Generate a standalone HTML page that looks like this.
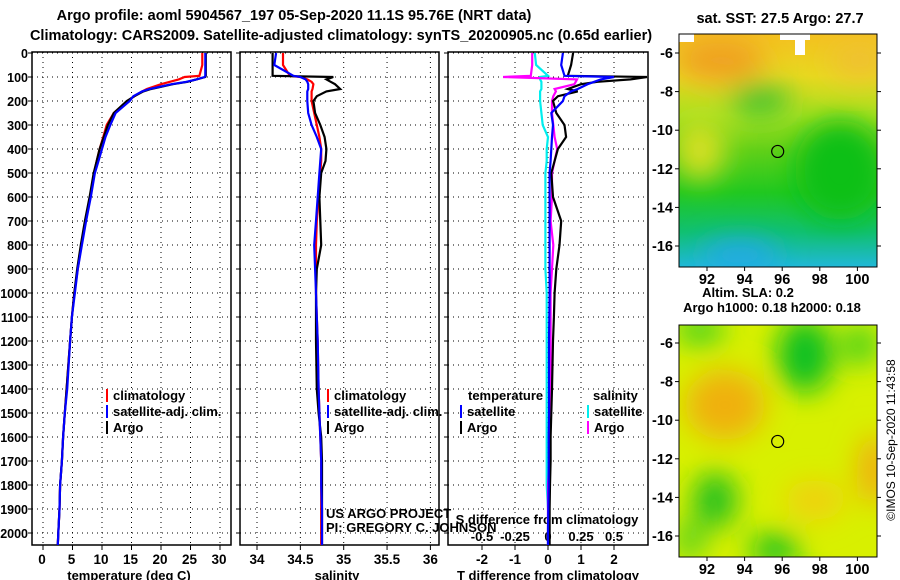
<!DOCTYPE html>
<html><head><meta charset="utf-8"><style>
body{margin:0;background:#fff}
svg{display:block;font-family:"Liberation Sans",sans-serif}
.t{font-weight:bold;font-size:14.5px}
.a{font-weight:bold;font-size:13px}
.m{font-weight:bold;font-size:13.5px}
.d{font-weight:bold;font-size:12.5px}
.g{stroke:#000;stroke-width:1;stroke-dasharray:1 4}
</style></head><body>
<svg id="c" width="900" height="580" viewBox="0 0 900 580">
<defs>
<linearGradient id="sstg" x1="0" y1="0" x2="0" y2="1">
<stop offset="0" stop-color="#f4c020"/><stop offset="0.18" stop-color="#e8d820"/>
<stop offset="0.35" stop-color="#a8e020"/><stop offset="0.5" stop-color="#60d018"/>
<stop offset="0.68" stop-color="#20c820"/><stop offset="0.85" stop-color="#10c070"/>
<stop offset="1" stop-color="#20b8d8"/></linearGradient>
<filter id="bl"><feGaussianBlur stdDeviation="14"/></filter>
<clipPath id="cm1"><rect x="679" y="34" width="198" height="233"/></clipPath>
<clipPath id="cm2"><rect x="679" y="325" width="198" height="232"/></clipPath>
<clipPath id="cp3"><rect x="448" y="52" width="200" height="493"/></clipPath>
</defs>
<text class="t" x="294" y="20" text-anchor="middle">Argo profile: aoml 5904567_197 05-Sep-2020 11.1S 95.76E (NRT data)</text>
<text class="t" x="341" y="40" text-anchor="middle">Climatology: CARS2009. Satellite-adjusted climatology: synTS_20200905.nc (0.65d earlier)</text>
<g id="axes"></g>
<g id="maps">
<g clip-path="url(#cm1)">
<rect x="679" y="34" width="198" height="233" fill="url(#sstg)"/>
<g filter="url(#bl)">
<ellipse cx="720" cy="60" rx="45" ry="22" fill="#f0a020"/>
<ellipse cx="860" cy="60" rx="30" ry="18" fill="#f0c030"/>
<ellipse cx="840" cy="170" rx="45" ry="50" fill="#10c018"/>
<ellipse cx="760" cy="100" rx="30" ry="14" fill="#30c030"/>
<ellipse cx="700" cy="150" rx="25" ry="30" fill="#d8e020"/>
<ellipse cx="740" cy="255" rx="40" ry="15" fill="#20a8e8"/>
</g>
<rect x="679" y="34" width="15" height="8" fill="#fff"/><rect x="780" y="34" width="30" height="6" fill="#fff"/><rect x="795" y="40" width="10" height="15" fill="#fff"/>
</g>
<rect x="679" y="34" width="198" height="233" fill="none" stroke="#000"/>
<g clip-path="url(#cm2)">
<rect x="679" y="325" width="198" height="232" fill="#d8f000"/>
<g filter="url(#bl)">
<ellipse cx="805" cy="355" rx="28" ry="38" fill="#10c020"/>
<ellipse cx="700" cy="330" rx="25" ry="15" fill="#40d020"/>
<ellipse cx="860" cy="345" rx="18" ry="20" fill="#40d020"/>
<ellipse cx="725" cy="405" rx="40" ry="35" fill="#f0b010"/>
<ellipse cx="875" cy="470" rx="18" ry="35" fill="#f0b010"/>
<ellipse cx="815" cy="500" rx="30" ry="20" fill="#f0d010"/>
<ellipse cx="715" cy="500" rx="22" ry="28" fill="#20c020"/>
<ellipse cx="775" cy="550" rx="25" ry="16" fill="#10c020"/>
<ellipse cx="690" cy="540" rx="15" ry="20" fill="#50d020"/>
</g></g>
<rect x="679" y="325" width="198" height="232" fill="none" stroke="#000"/>
<text class="t" x="780" y="23" text-anchor="middle">sat. SST: 27.5 Argo: 27.7</text>
<text class="a" x="748" y="297" text-anchor="middle">Altim. SLA: 0.2</text>
<text class="a" x="772" y="312" text-anchor="middle">Argo h1000: 0.18 h2000: 0.18</text>
<text x="895" y="440" font-size="12" text-anchor="middle" transform="rotate(-90 895 440)">©IMOS 10-Sep-2020 11:43:58</text>
</g>
</svg>
<script>
// ---- data ----
const depths=[0,50,95,100,110,120,130,150,160,180,200,250,300,350,400,450,500,600,700,800,900,1000,1100,1200,1400,1500,1600,1700,1800,1900,2000,2050];
const argoT=[27.6,27.6,27.6,27.5,26,24.5,22,18.3,17,15.5,14.2,12,11,10.3,9.6,9.1,8.6,7.9,7.1,6.4,5.8,5.3,4.9,4.6,4.0,3.7,3.4,3.2,2.9,2.8,2.6,2.5];
const climT=[27.0,27.0,26.5,24.0,23.0,21.5,20,17.6,16.8,15.5,14.3,12,10.8,10.2,9.6,9.1,8.7,8.0,7.2,6.5,5.9,5.3,4.9,4.6,4.0,3.7,3.4,3.2,2.9,2.8,2.6,2.5];
const satT=[27.5,27.5,27.5,27.4,26,24.3,21.8,18,16.8,15.3,14.7,12.3,11.4,10.6,10,9.4,8.8,8.1,7.3,6.6,5.9,5.4,4.9,4.6,4.1,3.7,3.4,3.2,2.9,2.8,2.6,2.5];
const argoS=[34.18,34.18,34.18,34.88,34.8,34.85,34.9,34.96,34.8,34.69,34.65,34.67,34.73,34.78,34.8,34.79,34.74,34.72,34.73,34.74,34.69,34.68,34.68,34.68,34.69,34.71,34.74,34.75,34.75,34.75,34.75,34.75];
const climS=[34.3,34.3,34.38,34.5,34.58,34.63,34.65,34.64,34.63,34.63,34.63,34.66,34.69,34.72,34.74,34.74,34.73,34.71,34.69,34.68,34.68,34.68,34.69,34.7,34.71,34.72,34.73,34.74,34.74,34.74,34.74,34.74];
const satS=[34.22,34.2,34.42,34.5,34.56,34.58,34.59,34.59,34.58,34.58,34.58,34.59,34.63,34.69,34.74,34.73,34.72,34.7,34.68,34.66,34.67,34.68,34.69,34.7,34.71,34.72,34.73,34.74,34.74,34.75,34.75,34.75];
const argoTd=[0.76,0.7,0.6,3.0,2.5,1.5,1.0,0.6,0.9,0.3,0.15,0.25,0.5,0.55,0.3,0.2,0.1,0.15,0.4,0.35,0.25,0.2,0.18,0.15,0.12,0.1,0.08,0.08,0.06,0.05,0.05,0.05];
const satTd=[0.45,0.4,0.5,2.0,1.6,1.4,1.2,0.9,0.7,0.5,0.45,0.1,0.15,0.12,0.1,0.08,0.05,0.05,0.05,0.05,0.05,0.05,0.04,0.03,0.03,0.03,0.02,0.02,0.02,0.01,0.0,0.0];
const argoSd=[-0.12,-0.12,-0.13,-0.34,0.22,0.21,0.2,0.05,0.06,0.04,0.03,0.03,0.04,0.05,0.07,0.05,0.03,0.03,0.02,0.04,0.03,0.02,0.02,0.02,0.02,0.01,0.01,0.01,0.0,0.0,0.0,0.0];
const satSd=[-0.1,-0.09,0.0,-0.06,-0.06,-0.05,-0.05,-0.05,-0.06,-0.06,-0.06,-0.05,-0.04,0.0,-0.01,-0.01,-0.02,-0.02,-0.02,-0.02,-0.02,-0.01,-0.01,-0.01,-0.01,-0.01,-0.01,-0.01,-0.01,0.0,0.0,0.0];
const depthTicks=[0,100,200,300,400,500,600,700,800,900,1000,1100,1200,1300,1400,1500,1600,1700,1800,1900,2000];
const tempTicks=[0,5,10,15,20,25,30];
const salTicks=[34,34.5,35,35.5,36];
const salTickLabels=["34","34.5","35","35.5","36"];
const tdTicks=[-2,-1,0,1,2];
const sdTicks=[-0.5,-0.25,0,0.25,0.5];
const sdTickLabels=["-0.5","-0.25","0","0.25","0.5"];
const mapLonTicks=[92,94,96,98,100];
const mapLatTicks=[-6,-8,-10,-12,-14,-16];
const floatLon=95.76, floatLat=-11.1;
// ---- scales ----
const yD=d=>53+d*0.24;
const xT=t=>43+t*5.9;
const xS=s=>257+(s-34)*86.7;
const xTd=v=>548+v*33;
const xSd=v=>548+v*132;
const m1x=l=>707+(l-92)*18.8;
const m1y=l=>53+(-6-l)*19.3;
const m2y=l=>343+(-6-l)*19.3;
const NS="http://www.w3.org/2000/svg";
const root=document.getElementById('axes');
function mk(tag,at,parent){const e=document.createElementNS(NS,tag);for(const k in at)e.setAttribute(k,at[k]);(parent||root).appendChild(e);return e;}
function txt(x,y,s,cls,anchor,parent){const e=mk('text',{x:x,y:y,class:cls||'a','text-anchor':anchor||'middle'},parent);e.textContent=s;return e;}
const panels=[{x0:32,x1:231,name:'temperature-panel'},{x0:240,x1:439,name:'salinity-panel'},{x0:448,x1:648,name:'difference-panel'}];
panels.forEach(p=>{
  const g=mk('g',{});
  
  
  depthTicks.forEach(d=>{mk('line',{x1:p.x0,x2:p.x1,y1:yD(d),y2:yD(d),class:'g'},g);});
  p.g=g;
});
function vgrid(p,xs){xs.forEach(x=>{mk('line',{x1:x,x2:x,y1:52,y2:545,class:'g'},p.g);mk('line',{x1:x,x2:x,y1:545,y2:550,stroke:'#000'},p.g);});}
vgrid(panels[0],tempTicks.map(xT));vgrid(panels[1],salTicks.map(xS));vgrid(panels[2],tdTicks.map(xTd));
panels.forEach(p=>{mk('rect',{x:p.x0,y:52,width:p.x1-p.x0,height:493,fill:'none',stroke:'#000','stroke-width':1.5},p.g);
  depthTicks.forEach(d=>mk('line',{x1:p.x0,x2:p.x0-4,y1:yD(d),y2:yD(d),stroke:'#000'},p.g));});
depthTicks.forEach(d=>{const e=txt(28,yD(d)+5,String(d),'d','end');});
tempTicks.forEach(t=>{const e=txt(xT(t)-1,564,String(t),'m');});
salTicks.forEach((s,i)=>{const e=txt(xS(s),564,salTickLabels[i],'m');});
tdTicks.forEach(v=>{const e=txt(xTd(v),564,String(v),'m');});
sdTicks.forEach((v,i)=>{const e=txt(xSd(v),541,sdTickLabels[i],'a');});
let e;
e=txt(129,580,'temperature (deg C)','a');
e=txt(337,580,'salinity','a');
e=txt(548,580,'T difference from climatology','a');
e=txt(547,524,'S difference from climatology','a');
function line(xs,xf,col,name,clip){const pts=depths.map((d,i)=>xf(xs[i]).toFixed(1)+','+yD(d).toFixed(1)).join(' ');
  const l=mk('polyline',{points:pts,fill:'none',stroke:col,'stroke-width':2.2});if(clip)l.setAttribute('clip-path','url(#cp3)');
  
  }
line(climT,xT,'#f00','temp-climatology-line');line(argoT,xT,'#000','temp-argo-line');line(satT,xT,'#00f','temp-satellite-line');
line(climS,xS,'#f00','sal-climatology-line');line(argoS,xS,'#000','sal-argo-line');line(satS,xS,'#00f','sal-satellite-line');
line(satSd,xSd,'#0ee','sdiff-satellite-line',1);line(argoSd,xSd,'#f0f','sdiff-argo-line',1);
line(argoTd,xTd,'#000','tdiff-argo-line',1);line(satTd,xTd,'#00f','tdiff-satellite-line',1);
function leg(x,y,col,s){const g=mk('g',{});
  mk('line',{x1:x,x2:x,y1:y-11,y2:y+2,stroke:col,'stroke-width':2},g);txt(x+6,y,s,'a','start',g);}
leg(107,400,'#f00','climatology');leg(107,416,'#00f','satellite-adj. clim.');leg(107,432,'#000','Argo');
leg(328,400,'#f00','climatology');leg(328,416,'#00f','satellite-adj. clim.');leg(328,432,'#000','Argo');
e=txt(468,400,'temperature','a','start');
e=txt(593,400,'salinity','a','start');
leg(461,416,'#00f','satellite');leg(461,432,'#000','Argo');leg(588,416,'#0ee','satellite');leg(588,432,'#f0f','Argo');
const c1=txt(326,518,'US ARGO PROJECT','','start');c1.setAttribute('font-size','12');
const c2=txt(326,532,'PI: GREGORY C. JOHNSON','','start');c2.setAttribute('font-size','12');
// map axes
const maps=document.getElementById('maps');
[[m1y,267],[m2y,557]].forEach(([fy,yb])=>{
  mapLonTicks.forEach(l=>{const x=m1x(l);mk('line',{x1:x,x2:x,y1:yb,y2:yb+4,stroke:'#000'},maps);const t=txt(x,yb+17,String(l),'t','middle',maps);});
  mapLatTicks.forEach(l=>{const y=fy(l);mk('line',{x1:675,x2:679,y1:y,y2:y,stroke:'#000'},maps);mk('line',{x1:877,x2:881,y1:y,y2:y,stroke:'#000'},maps);const t=txt(673,y+5,String(l),'t','end',maps);});
  const m=mk('circle',{cx:m1x(floatLon),cy:fy(floatLat),r:6,fill:'none',stroke:'#000','stroke-width':1.2},maps);
  
});
</script>
</body></html>
